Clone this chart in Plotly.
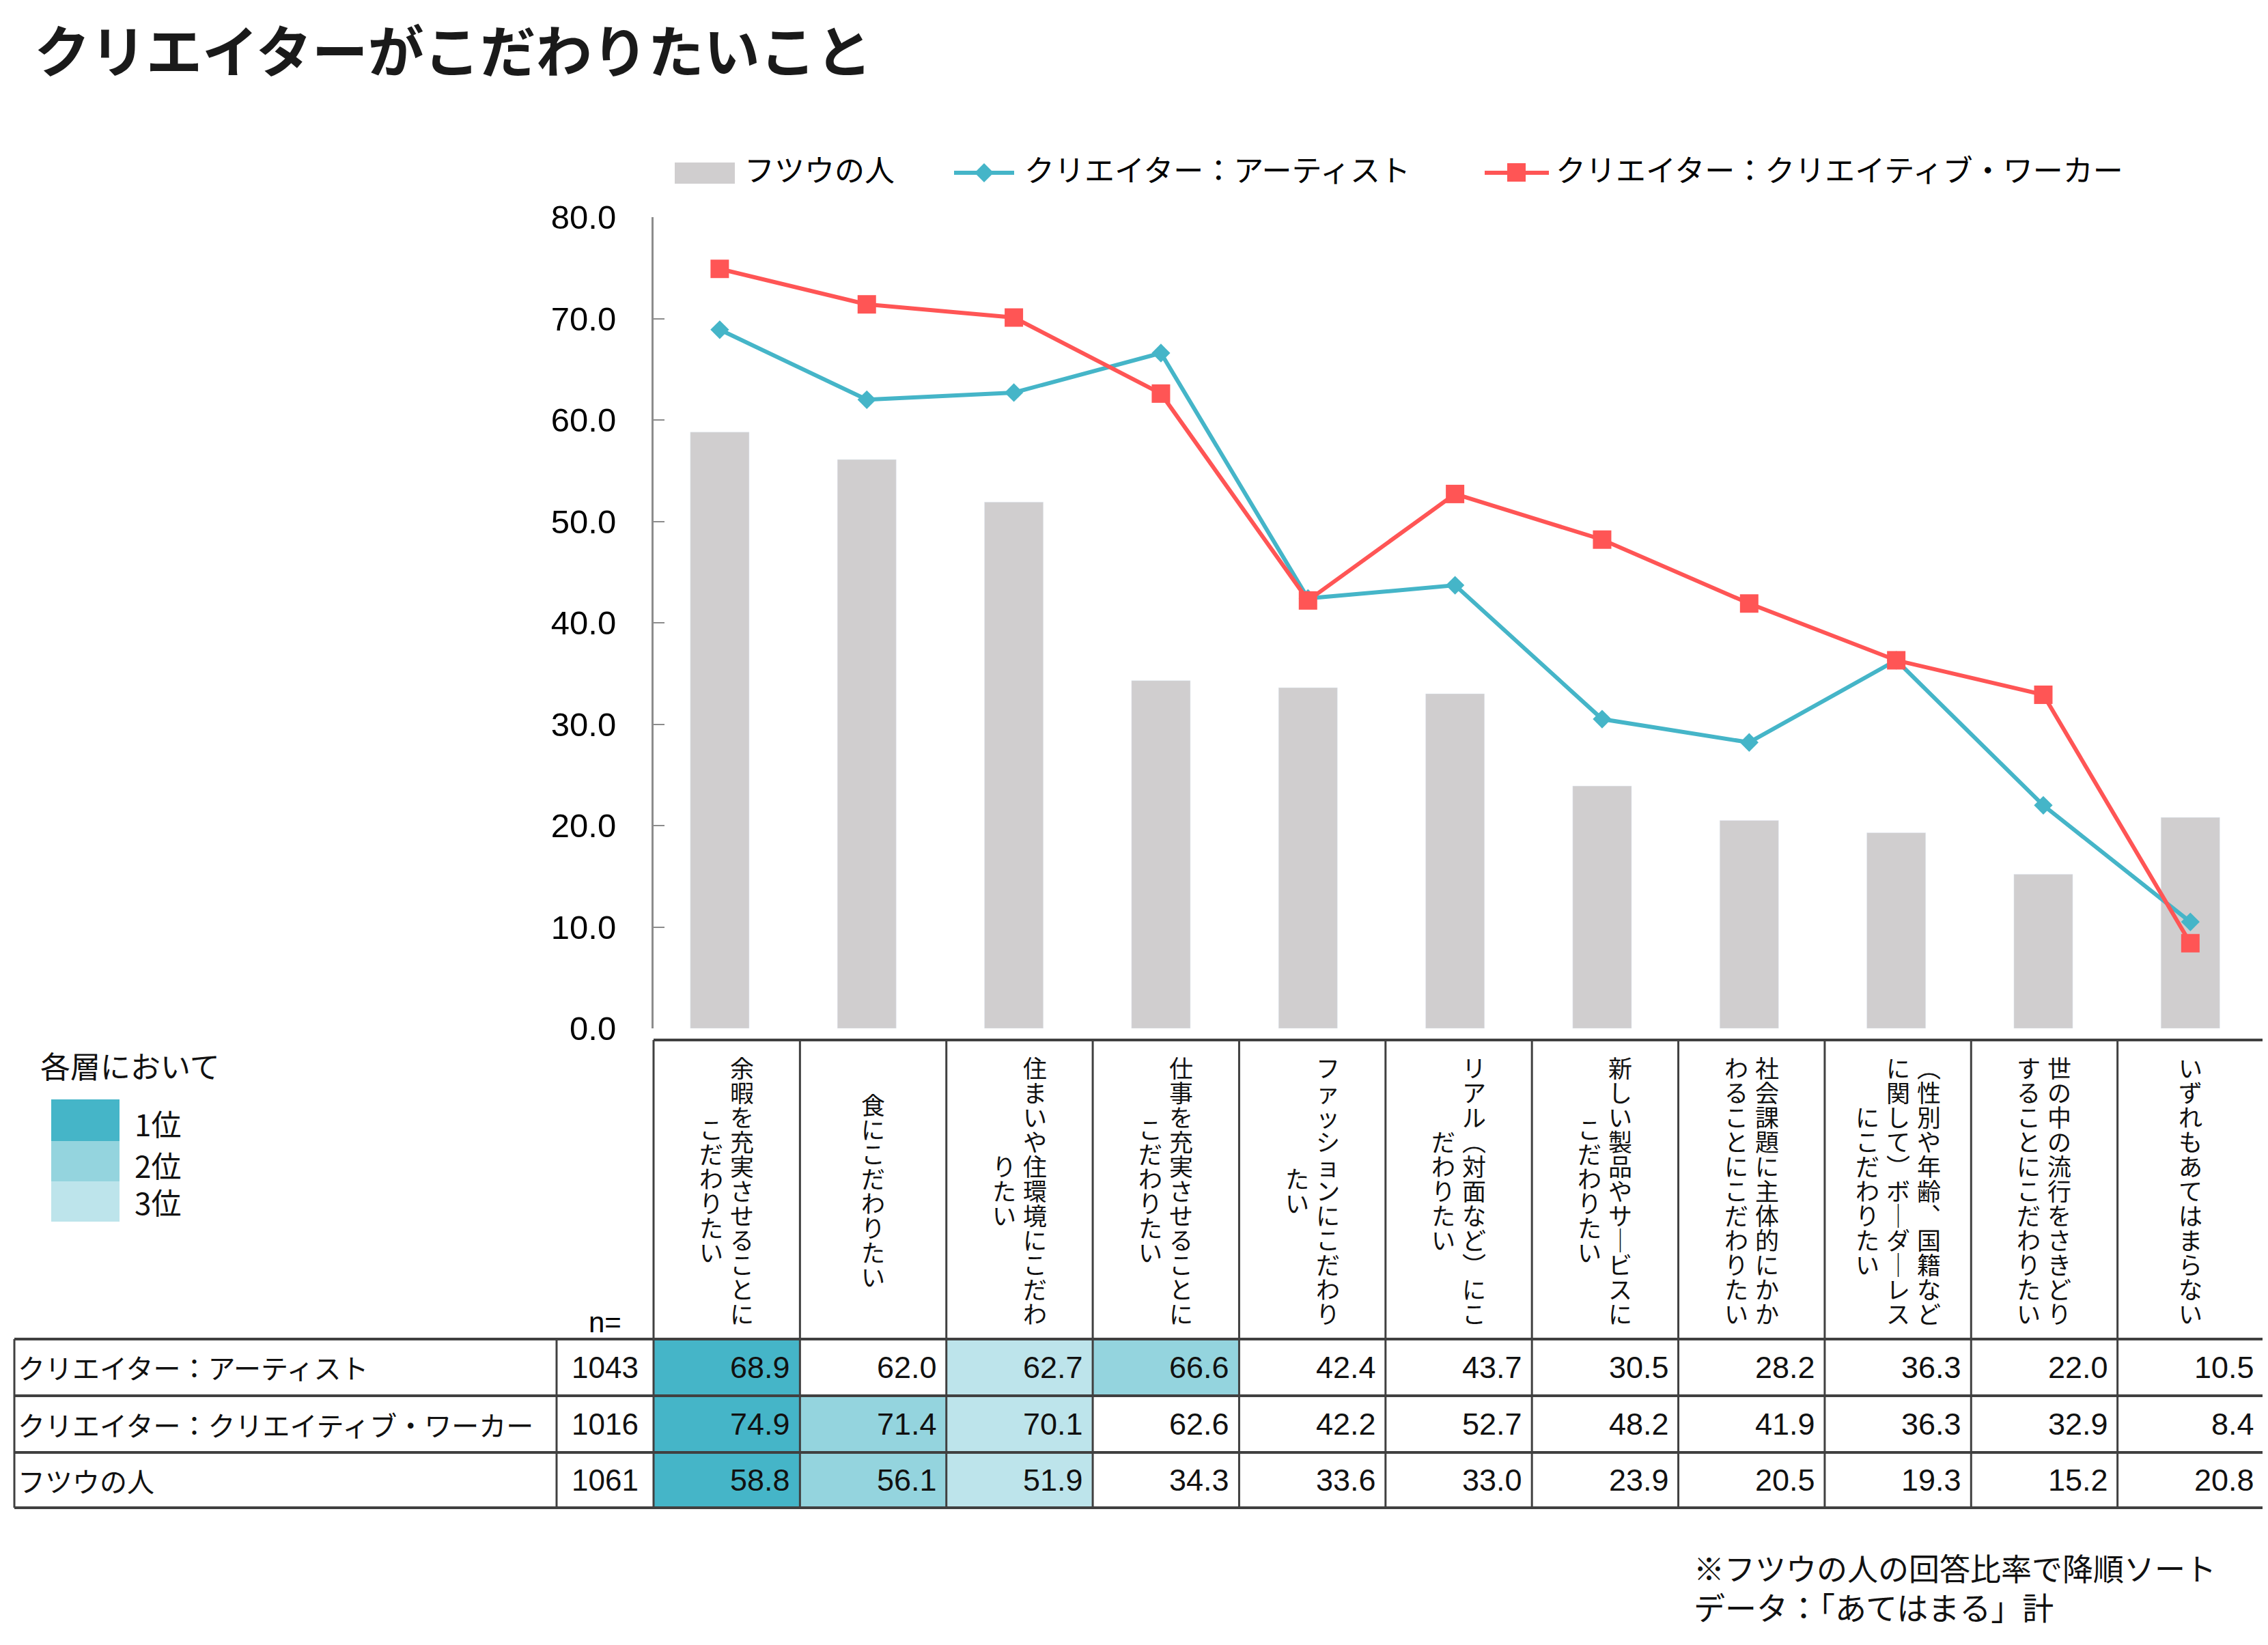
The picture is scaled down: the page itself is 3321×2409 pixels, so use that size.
import plotly.graph_objects as go

# ---------------- data ----------------
title = "クリエイターがこだわりたいこと"

category_lines = [
    ["余暇を充実させることに", "こだわりたい"],
    ["食にこだわりたい"],
    ["住まいや住環境にこだわ", "りたい"],
    ["仕事を充実させることに", "こだわりたい"],
    ["ファッションにこだわり", "たい"],
    ["リアル（対面など）にこ", "だわりたい"],
    ["新しい製品やサービスに", "こだわりたい"],
    ["社会課題に主体的にかか", "わることにこだわりたい"],
    ["（性別や年齢、国籍など", "に関して）ボーダーレス", "にこだわりたい"],
    ["世の中の流行をさきどり", "することにこだわりたい"],
    ["いずれもあてはまらない"],
]
categories = ["".join(c) for c in category_lines]

series_names = ["フツウの人", "クリエイター：アーティスト", "クリエイター：クリエイティブ・ワーカー"]
futsuu = [58.8, 56.1, 51.9, 34.3, 33.6, 33.0, 23.9, 20.5, 19.3, 15.2, 20.8]
artist = [68.9, 62.0, 62.7, 66.6, 42.4, 43.7, 30.5, 28.2, 36.3, 22.0, 10.5]
worker = [74.9, 71.4, 70.1, 62.6, 42.2, 52.7, 48.2, 41.9, 36.3, 32.9, 8.4]

table_row_names = ["クリエイター：アーティスト", "クリエイター：クリエイティブ・ワーカー", "フツウの人"]
table_n = [1043, 1016, 1061]
y_ticks = [0, 10, 20, 30, 40, 50, 60, 70, 80]
rank_title = "各層において"
rank_labels = ["1位", "2位", "3位"]
notes = ["※フツウの人の回答比率で降順ソート", "データ：「あてはまる」計"]

# ---------------- style ----------------
C_BAR = "#D0CECF"
C_ART = "#45B5C8"
C_WRK = "#FF5555"
C_RANK = ["#45B5C8", "#94D4DE", "#BDE4EB"]
C_GRID = "#404040"
C_AXIS = "#8C8C8C"
JP = "Noto Sans CJK JP"
NUM = "Liberation Sans, Arial, sans-serif"

# page body has a default 8px margin; lay out in screen coordinates and shift
OFF = 8
W, H = 3321 - OFF, 2409 - OFF
PLOT_L, PLOT_R, PLOT_T, PLOT_B = 957, 3315, 318, 1506   # screen pixels
ML = PLOT_L - OFF
MR = W - (PLOT_R - OFF)
MT = PLOT_T - OFF
MB = H - (PLOT_B - OFF)
PW = W - ML - MR
PH = H - MT - MB


def px(x):
    return (x - OFF - ML) / PW


def py(y):
    return (H - MB - (y - OFF)) / PH


fig = go.Figure()
fig.add_trace(go.Bar(x=categories, y=futsuu, name=series_names[0], marker_color=C_BAR,
                     width=0.4))
fig.add_trace(go.Scatter(x=categories, y=artist, name=series_names[1], mode="lines+markers",
                         line=dict(color=C_ART, width=6),
                         marker=dict(symbol="diamond", size=21, color=C_ART),
                         cliponaxis=False))
fig.add_trace(go.Scatter(x=categories, y=worker, name=series_names[2], mode="lines+markers",
                         line=dict(color=C_WRK, width=6),
                         marker=dict(symbol="square", size=27, color=C_WRK),
                         cliponaxis=False))

shapes = []
annotations = []


def text(x, y, s, size, family=JP, xanchor="left", color="#000", bold=False, xshift=0, yshift=0,
         align="left"):
    if bold:
        s = "<b>" + s + "</b>"
    annotations.append(dict(x=px(x), y=py(y), xref="paper", yref="paper", text=s, showarrow=False,
                            xanchor=xanchor, yanchor="middle", xshift=xshift, yshift=yshift,
                            align=align,
                            font=dict(size=size, family=family, color=color)))


def rect(x0, y0, x1, y1, color, layer="below"):
    shapes.append(dict(type="rect", xref="paper", yref="paper", x0=px(x0), x1=px(x1),
                       y0=py(y0), y1=py(y1), fillcolor=color, line=dict(width=0), layer=layer))


def hline(x0, x1, y, w=4):
    shapes.append(dict(type="line", xref="paper", yref="paper", x0=px(x0), x1=px(x1),
                       y0=py(y), y1=py(y), line=dict(color=C_GRID, width=w)))


def vline(x, y0, y1, w=3):
    shapes.append(dict(type="line", xref="paper", yref="paper", x0=px(x), x1=px(x),
                       y0=py(y0), y1=py(y1), line=dict(color=C_GRID, width=w)))


# title
text(48, 70, title, 82, bold=True, color="#1a1a1a")

# top legend (manual)
rect(988, 238, 1076, 269, C_BAR, layer="above")
text(1088, 247, series_names[0], 44)
shapes.append(dict(type="line", xref="paper", yref="paper", x0=px(1397), x1=px(1485),
                   y0=py(253), y1=py(253), line=dict(color=C_ART, width=6)))
cx, cy, r = 1441, 253, 14
shapes.append(dict(type="path", xref="paper", yref="paper",
                   path=f"M{px(cx-r)},{py(cy)} L{px(cx)},{py(cy-r)} L{px(cx+r)},{py(cy)} L{px(cx)},{py(cy+r)} Z",
                   fillcolor=C_ART, line=dict(width=0)))
text(1498, 247, series_names[1], 44)
shapes.append(dict(type="line", xref="paper", yref="paper", x0=px(2174), x1=px(2268),
                   y0=py(253), y1=py(253), line=dict(color=C_WRK, width=6)))
rect(2207, 239, 2234, 266, C_WRK, layer="above")
text(2276, 247, series_names[2], 44)

# ---------------- table ----------------
TX0, TX1 = 957, 3315
CW = (TX1 - TX0) / len(categories)
HDR_TOP, HDR_BOT = 1523, 1961
ROWS = [1961, 2044, 2127, 2208]
LAB_X0, N_X0 = 21, 815

# rank fills
table_values = [artist, worker, futsuu]
for r_i, vals in enumerate(table_values):
    order = sorted(range(len(vals)), key=lambda k: -vals[k])
    for rank, k in enumerate(order[:3]):
        rect(TX0 + CW * k, ROWS[r_i], TX0 + CW * (k + 1), ROWS[r_i + 1], C_RANK[rank])

# grid lines
hline(TX0, TX1, HDR_TOP)
for y in ROWS:
    hline(LAB_X0, TX1, y)
vline(LAB_X0, ROWS[0], ROWS[-1])
vline(N_X0, ROWS[0], ROWS[-1])
for k in range(len(categories) + 1):
    vline(TX0 + CW * k, HDR_TOP, ROWS[-1])

# vertical header text: one annotation per text column, one glyph per line
VMAP = {"（": "︵", "）": "︶", "、": "︑", "ー": "｜"}
CHAR_PITCH, COL_PITCH, GLYPH = 36, 45, 35
hdr_mid = (HDR_TOP + HDR_BOT) / 2
for i, lines in enumerate(category_lines):
    ccx = TX0 + CW * (i + 0.5)
    k = len(lines)
    for j, line in enumerate(lines):
        x = ccx + ((k - 1) / 2 - j) * COL_PITCH
        s = "<br>".join(f"<span style='font-size:{GLYPH}px'>{VMAP.get(ch, ch)}</span>" for ch in line)
        text(x, hdr_mid, s, CHAR_PITCH / 1.3, xanchor="center", color="#111", align="center")

# n=
text(886, 1936, "n=", 42, family=NUM, xanchor="center")

# rows
for r_i in range(3):
    ymid = (ROWS[r_i] + ROWS[r_i + 1]) / 2
    text(24, ymid, table_row_names[r_i], 40, color="#111")
    text(TX0 - 20, ymid, str(table_n[r_i]), 44, family=NUM, xanchor="right", color="#111")
    for k, v in enumerate(table_values[r_i]):
        text(TX0 + CW * (k + 1) - 12, ymid, f"{v:.1f}", 45, family=NUM, xanchor="right", color="#111")

# rank legend
text(57, 1560, rank_title, 44, color="#111")
sw_y = [1610, 1671, 1730, 1789]
lab_y = [1645, 1706, 1760]
for r_i in range(3):
    rect(75, sw_y[r_i], 175, sw_y[r_i + 1], C_RANK[r_i])
    text(195, lab_y[r_i], rank_labels[r_i], 44, color="#111")

# notes
text(2478, 2295, notes[0], 45, color="#111")
text(2478, 2352, notes[1], 46, color="#111")

fig.update_layout(
    width=W, height=H,
    margin=dict(l=ML, r=MR, t=MT, b=MB, autoexpand=False),
    paper_bgcolor="white", plot_bgcolor="white",
    showlegend=False,
    shapes=shapes, annotations=annotations,
    xaxis=dict(type="category", categoryorder="array", categoryarray=categories,
               range=[-0.45, 10.5], visible=False),
    yaxis=dict(range=[0, 80], tickvals=y_ticks, tickformat=".1f",
               ticks="inside", ticklen=16, tickwidth=2, tickcolor=C_AXIS,
               showline=True, linewidth=3, linecolor=C_AXIS,
               showgrid=False, zeroline=False, ticklabelstandoff=42,
               tickfont=dict(size=49, family=NUM, color="#000")),
)

fig.write_html("out.html")
